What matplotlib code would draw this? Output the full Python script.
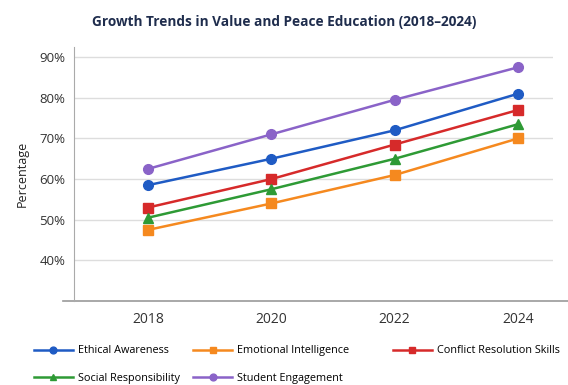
import matplotlib
matplotlib.use("Agg")
import matplotlib.pyplot as plt

plt.rcParams['font.family'] = ['Open Sans', 'DejaVu Sans']

years = [2018, 2020, 2022, 2024]
ethical = [58.5, 65, 72, 81]
emotional = [47.5, 54, 61, 70]
conflict = [53, 60, 68.5, 77]
social = [50.5, 57.5, 65, 73.5]
engagement = [62.5, 71, 79.5, 87.5]

series = [
    ('Ethical Awareness', ethical, '#1f5bc4', 'o'),
    ('Emotional Intelligence', emotional, '#f5891f', 's'),
    ('Conflict Resolution Skills', conflict, '#d62a2a', 's'),
    ('Social Responsibility', social, '#2e9a35', '^'),
    ('Student Engagement', engagement, '#8a63c8', 'o'),
]

fig = plt.figure(figsize=(5.68, 3.85), dpi=100)
ax = fig.add_axes([0.130, 0.218, 0.844, 0.66])

lines = {}
for name, vals, color, marker in series:
    lines[name], = ax.plot(years, vals, color=color, marker=marker, markersize=7,
                           linewidth=1.8, label=name)

ax.set_ylim(30, 92.5)
ax.set_xlim(2016.8, 2024.57)
ax.set_xticks(years)
ax.set_yticks([40, 50, 60, 70, 80, 90])
ax.set_yticklabels([f'{v}%' for v in [40, 50, 60, 70, 80, 90]])
ax.tick_params(axis='both', length=0, colors='#333333')
ax.tick_params(axis='x', labelsize=10, pad=8)
ax.tick_params(axis='y', labelsize=9.5, pad=6)
ax.grid(axis='y', color='#dddddd', linewidth=1)
ax.set_axisbelow(True)
for s in ['top', 'right', 'bottom']:
    ax.spines[s].set_visible(False)
ax.spines['left'].set_color('#aaaaaa')
# baseline runs a bit past the plot area on both sides
ax.plot([-0.023, 1.031], [0, 0], transform=ax.transAxes, clip_on=False,
        color='#999999', linewidth=1.2)
ax.set_ylabel('Percentage', fontsize=9, color='#222222', labelpad=8)

fig.suptitle('Growth Trends in Value and Peace Education (2018\u20132024)',
             fontsize=9.8, fontweight='bold', color='#1f2d4d', y=0.96)

legend_kw = dict(loc='upper left', frameon=False, fontsize=7.8,
                 handlelength=3.6, handletextpad=0.5, markerscale=0.7,
                 labelspacing=1.5)
# first two columns are a grid, the third entry sits on its own
order = ['Ethical Awareness', 'Social Responsibility',
         'Emotional Intelligence', 'Student Engagement']
fig.legend([lines[n] for n in order], order, ncol=2,
           bbox_to_anchor=(0.042, 0.128), columnspacing=1.2, **legend_kw)
fig.legend([lines['Conflict Resolution Skills']], ['Conflict Resolution Skills'],
           bbox_to_anchor=(0.674, 0.128), **legend_kw)

fig.savefig('out.png', dpi=100)
